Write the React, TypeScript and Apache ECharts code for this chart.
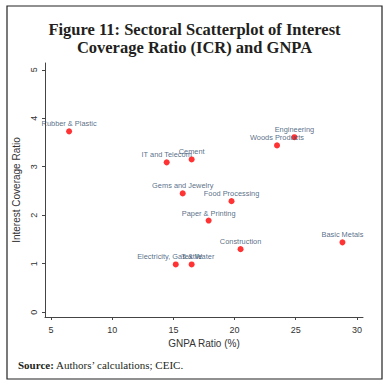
import React, { useEffect, useRef } from "react";
import * as echarts from "echarts";

const sectors = [
  "Rubber & Plastic",
  "IT and Telecom",
  "Cement",
  "Gems and Jewelry",
  "Engineering",
  "Woods Products",
  "Food Processing",
  "Paper & Printing",
  "Basic Metals",
  "Construction",
  "Electricity, Gas & Water",
  "Textile",
];
const gnpaRatio = [6.47, 14.45, 16.49, 15.76, 24.89, 23.47, 19.75, 17.88, 28.82, 20.49, 15.19, 16.49];
const icr = [3.73, 3.09, 3.15, 2.45, 3.61, 3.44, 2.29, 1.89, 1.44, 1.3, 0.985, 0.985];
const xTicks = [5, 10, 15, 20, 25, 30];
const yTicks = [0, 1, 2, 3, 4, 5];

const titleText = "Figure 11: Sectoral Scatterplot of Interest\nCoverage Ratio (ICR) and GNPA";
const xName = "GNPA Ratio (%)";
const yName = "Interest Coverage Ratio";

export default function App() {
  const ref = useRef<HTMLDivElement>(null);
  useEffect(() => {
    document.body.style.margin = "0";
    if (!ref.current) return;
    const chart = echarts.init(ref.current, null, { renderer: "svg" });
    const sans = "Liberation Sans, Arial, sans-serif";
    const serif = "Liberation Serif, Times New Roman, serif";
    chart.setOption({
      animation: false,
      backgroundColor: "#ffffff",
      title: {
        text: titleText,
        left: "center",
        top: 15,
        textStyle: {
          fontFamily: serif,
          fontWeight: "bold",
          fontSize: 16.5,
          lineHeight: 18,
          color: "#231f20",
        },
      },
      grid: { left: 45, right: 26, top: 63, bottom: 69, containLabel: false },
      xAxis: {
        type: "value",
        min: 4.5,
        max: 30.5,
        name: xName,
        nameLocation: "middle",
        nameGap: 20,
        nameTextStyle: { fontFamily: sans, fontSize: 10, color: "#333" },
        axisLine: { show: true, onZero: false, lineStyle: { color: "#444", width: 1 } },
        axisTick: { show: true, length: 3, customValues: xTicks, lineStyle: { color: "#444" } },
        axisLabel: { customValues: xTicks, fontFamily: sans, fontSize: 9, color: "#333", margin: 8 },
        splitLine: { show: false },
      },
      yAxis: {
        type: "value",
        min: -0.1,
        max: 5.14,
        name: yName,
        nameLocation: "middle",
        nameGap: 15,
        nameTextStyle: { fontFamily: sans, fontSize: 10, color: "#333" },
        axisLine: { show: true, onZero: false, lineStyle: { color: "#444", width: 1 } },
        axisTick: { show: true, length: 3, customValues: yTicks, lineStyle: { color: "#444" } },
        axisLabel: { customValues: yTicks, rotate: 90, fontFamily: sans, fontSize: 9, color: "#333", margin: 7 },
        splitLine: { show: false },
      },
      series: [
        {
          type: "scatter",
          symbolSize: 6,
          itemStyle: { color: "#ff0000" },
          data: gnpaRatio.map((x, i) => ({ value: [x, icr[i]], name: sectors[i] })),
          label: {
            show: true,
            position: "top",
            distance: 1,
            formatter: (p: any) => p.name,
            fontFamily: sans,
            fontSize: 7.4,
            color: "#2a4868",
          },
          labelLayout: { hideOverlap: false },
        },
      ],
      graphic: [
        {
          type: "rect",
          shape: { x: 7, y: 6, width: 375, height: 373 },
          style: { fill: "none", stroke: "#222", lineWidth: 1.2 },
          silent: true,
        },
        {
          type: "text",
          x: 18,
          y: 365,
          style: {
            text: "{b|Source:} Authors\u2019 calculations; CEIC.",
            fontFamily: serif,
            fontSize: 11,
            fill: "#231f20",
            verticalAlign: "middle",
            rich: {
              b: { fontFamily: serif, fontSize: 11, fontWeight: "bold", fill: "#231f20" },
            },
          },
        },
      ],
    });
    return () => chart.dispose();
  }, []);
  return <div ref={ref} style={{ width: 389, height: 386 }} />;
}
